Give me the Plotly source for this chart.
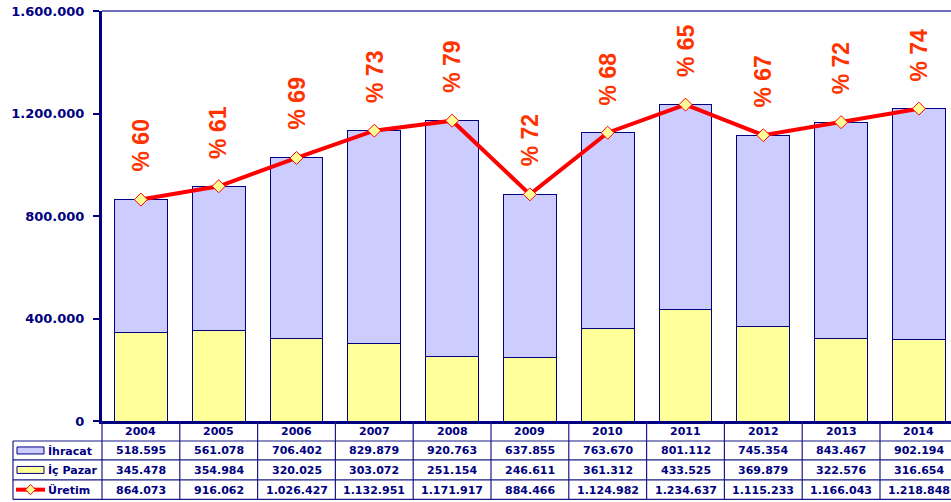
import plotly.graph_objects as go

years = ["2004", "2005", "2006", "2007", "2008", "2009", "2010", "2011", "2012", "2013", "2014"]
ihracat = [518595, 561078, 706402, 829879, 920763, 637855, 763670, 801112, 745354, 843467, 902194]
ic_pazar = [345478, 354984, 320025, 303072, 251154, 246611, 361312, 433525, 369879, 322576, 316654]
uretim = [864073, 916062, 1026427, 1132951, 1171917, 884466, 1124982, 1234637, 1115233, 1166043, 1218848]
ihracat_pay = [60, 61, 69, 73, 79, 72, 68, 65, 67, 72, 74]

NAVY = "#000080"
W, H = 951, 502
PL, PR, PT, PB = 102, 951, 11, 421.5  # plot area in pixels
X_RANGE = [-0.5, -0.5 + (PR - PL) / 77.8]


def px_x(p):
    return (p - PL) / (PR - PL)


def px_y(p):
    return (PB - p) / (PB - PT)


def fmt(v):
    return f"{v:,}".replace(",", ".")


fig = go.Figure()
fig.add_bar(x=years, y=ic_pazar, name="İç Pazar",
            marker=dict(color="#FFFF99", line=dict(color=NAVY, width=1)))
fig.add_bar(x=years, y=ihracat, name="İhracat",
            marker=dict(color="#CCCCFF", line=dict(color=NAVY, width=1)))
fig.add_scatter(x=years, y=uretim, name="Üretim", mode="lines+markers",
                line=dict(color="#FF0000", width=4),
                marker=dict(symbol="diamond", size=10, color="#FFFF99",
                            line=dict(color="#FF0000", width=1)))

# percent labels above the production line (category index as x)
for i, (u, p) in enumerate(zip(uretim, ihracat_pay)):
    fig.add_annotation(x=i, y=u, xref="x", yref="y", text=f"% {p}",
                       textangle=-90, showarrow=False, yshift=54,
                       font=dict(family="Liberation Sans", size=23,
                                 color="#FF3300", weight="bold"))

shapes = []
# top border of the plot area
shapes.append(dict(type="line", xref="paper", yref="paper", x0=0, x1=1, y0=1, y1=1,
                   line=dict(color="#7070B8", width=2)))

# data table below the chart
rows_px = [421.5, 441.5, 460.5, 480.5, 500]
line_style = dict(color="#1A1A88", width=1.2)
for r in rows_px[1:]:
    shapes.append(dict(type="line", xref="paper", yref="paper",
                       x0=px_x(13), x1=1, y0=px_y(r), y1=px_y(r), line=line_style))
shapes.append(dict(type="line", xref="paper", yref="paper",
                   x0=px_x(13), x1=px_x(13), y0=px_y(rows_px[1]), y1=px_y(rows_px[-1]),
                   line=line_style))
for i in range(len(years)):
    xb = (i - 0.5 - X_RANGE[0]) / (X_RANGE[1] - X_RANGE[0])
    shapes.append(dict(type="line", xref="paper", yref="paper",
                       x0=xb, x1=xb, y0=px_y(rows_px[0]), y1=px_y(rows_px[-1]),
                       line=line_style))

cell_font = dict(family="DejaVu Sans", size=11, color=NAVY, weight="bold")
table_rows = [years, [fmt(v) for v in ihracat], [fmt(v) for v in ic_pazar],
              [fmt(v) for v in uretim]]
for k, row in enumerate(table_rows):
    yc = px_y((rows_px[k] + rows_px[k + 1]) / 2 + 0.5)
    for i, txt in enumerate(row):
        fig.add_annotation(x=i, y=yc, xref="x", yref="paper", text=txt,
                           showarrow=False, font=cell_font,
                           xanchor="center", yanchor="middle")

# legend keys inside the table
row_labels = ["İhracat", "İç Pazar", "Üretim"]
for k, lab in enumerate(row_labels):
    yc = (rows_px[k + 1] + rows_px[k + 2]) / 2
    fig.add_annotation(x=px_x(46), y=px_y(yc + 0.5), xref="paper", yref="paper",
                       text=lab, showarrow=False, font=cell_font,
                       xanchor="left", yanchor="middle")
    if k < 2:
        shapes.append(dict(type="rect", xref="paper", yref="paper",
                           x0=px_x(17), x1=px_x(44), y0=px_y(yc - 3.5), y1=px_y(yc + 3.5),
                           fillcolor=["#CCCCFF", "#FFFF99"][k],
                           line=dict(color=NAVY, width=1)))
    else:
        shapes.append(dict(type="line", xref="paper", yref="paper",
                           x0=px_x(16), x1=px_x(45), y0=px_y(yc), y1=px_y(yc),
                           line=dict(color="#FF0000", width=4)))
        shapes.append(dict(type="path", xref="paper", yref="paper",
                           path=(f"M {px_x(30.5)} {px_y(yc - 5)} L {px_x(35.5)} {px_y(yc)} "
                                 f"L {px_x(30.5)} {px_y(yc + 5)} L {px_x(25.5)} {px_y(yc)} Z"),
                           fillcolor="#FFFF99", line=dict(color="#FF0000", width=1)))

fig.update_layout(
    width=W, height=H,
    barmode="stack", bargap=0.32,
    showlegend=False,
    separators=",.",
    plot_bgcolor="white", paper_bgcolor="white",
    margin=dict(l=PL, r=W - PR, t=PT, b=H - PB),
    shapes=shapes,
)
fig.update_xaxes(type="category", range=X_RANGE, showticklabels=False,
                 showline=True, linecolor=NAVY, linewidth=3, ticks="",
                 showgrid=False, zeroline=False)
fig.update_yaxes(range=[0, 1600000], dtick=400000, tickformat=",d",
                 showline=True, linecolor=NAVY, linewidth=3,
                 ticks="outside", ticklen=6, tickwidth=2, tickcolor=NAVY,
                 ticklabelstandoff=6,
                 tickfont=dict(family="DejaVu Sans", size=13, color=NAVY, weight="bold"),
                 showgrid=False, zeroline=False)

# the page's default body margin would push the figure off by 8px
fig.write_html("out.html", config={"displayModeBar": False},
               post_script="document.body.style.margin = '0';")
